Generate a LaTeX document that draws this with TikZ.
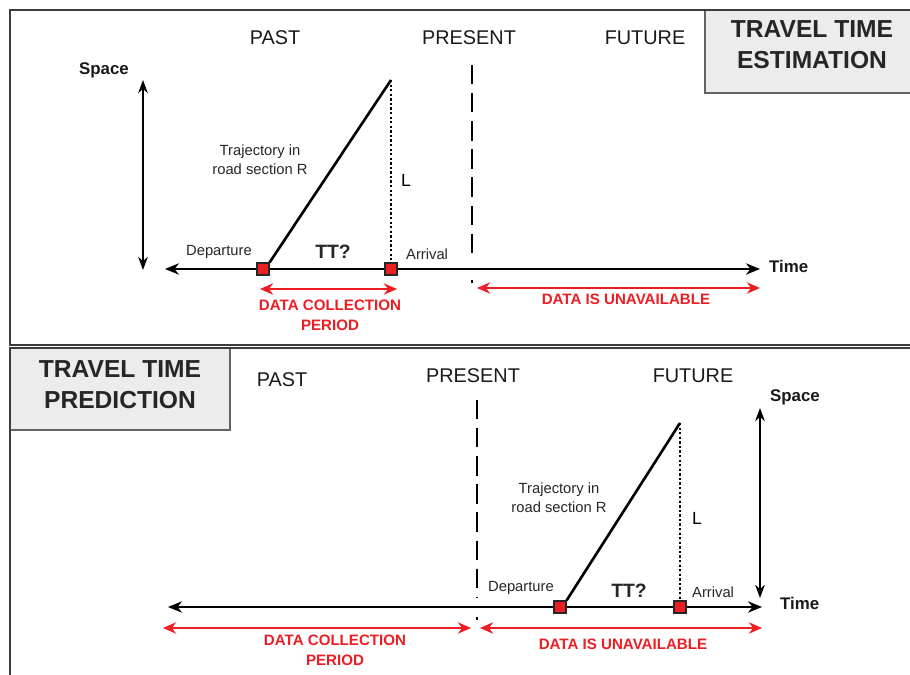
\documentclass[tikz,border=0pt]{standalone}
\usepackage{fontspec}
\setmainfont{Liberation Sans}
\usetikzlibrary{positioning, arrows.meta}

\definecolor{datared}{RGB}{236,30,36}
\definecolor{boxgray}{RGB}{236,236,236}
\definecolor{rulegray}{RGB}{60,60,60}

\begin{document}
\begin{tikzpicture}[x=0.02cm,y=-0.02cm,
    frame/.style={draw=rulegray,line width=1.3pt},
    boxedge/.style={draw=rulegray!80,line width=0.9pt},
    heading/.style={font=\bfseries\fontsize{14}{17.5}\selectfont,align=center,text=black!85},
    era/.style={font=\fontsize{11.3}{13}\selectfont,text=black!90},
    axislabel/.style={font=\bfseries\fontsize{9.6}{11}\selectfont,text=black!90},
    small/.style={font=\fontsize{8.4}{10.8}\selectfont,align=center,text=black!85},
    ttlabel/.style={font=\bfseries\fontsize{11}{13}\selectfont,text=black!85},
    redlabel/.style={font=\bfseries\fontsize{8.6}{11.3}\selectfont,align=center,text=datared},
    timeaxis/.style={line width=1pt,{Stealth[length=8pt,width=6.5pt]}-{Stealth[length=8pt,width=6.5pt]}},
    spaceaxis/.style={line width=0.9pt,{Stealth[length=7.5pt,width=5.5pt]}-{Stealth[length=7.5pt,width=5.5pt]}},
    span/.style={draw=datared,line width=1pt,{Stealth[length=7.5pt,width=6.5pt]}-{Stealth[length=7.5pt,width=6.5pt]}},
    traj/.style={line width=1.5pt},
    height/.style={line width=0.8pt,dash pattern=on 1.3pt off 1.3pt},
    nowline/.style={line width=0.9pt,dash pattern=on 11pt off 5pt},
    event/.style={rectangle,draw=black!85,fill=datared,line width=1pt,minimum size=0.23cm,inner sep=0pt},
  ]
\useasboundingbox (0,0) rectangle (910,675);

% title boxes
\fill[boxgray] (705,10) rectangle (910,93);
\draw[boxedge] (705,10) |- (910,93);
\fill[boxgray] (10,348) rectangle (230,430);
\draw[boxedge] (230,348) |- (10,430);

% panel frames
\draw[frame] (910,10) -- (10,10) -- (10,345) -- (910,345);
\draw[frame] (910,348) -- (10,348) -- (10,675);

\node[heading] (estim) at (812,45) {TRAVEL TIME\\ESTIMATION};
\node[heading] (predict) at (120,385) {TRAVEL TIME\\PREDICTION};

%%% estimation panel
\node[era] (past1) at (275,38) {PAST};
\node[era] (pres1) at (469,38) {PRESENT};
\node[era] (fut1)  at (645,38) {FUTURE};

\coordinate (s1a) at (143,80);
\coordinate (s1b) at (143,270);
\draw[spaceaxis] (s1a) -- (s1b);
\node[axislabel] (space1) at (104,70) {Space};

\coordinate (t1a) at (165,269);
\coordinate (t1b) at (760,269);
\draw[timeaxis] (t1a) -- (t1b);
\node[axislabel,anchor=west] (time1) at (763,266) {Time};

% present: dashes stop short of the axis, one dot below it
\draw[nowline] (472,65) -- (472,261);
\draw[line width=0.9pt] (472,280) -- (472,283);

\coordinate (top1) at (391,80);
\node[event] (dep1) at (263,269) {};
\node[event] (arr1) at (391,269) {};
\draw[traj] (dep1.north east) -- (top1);
\draw[height] (top1) -- (arr1.north);

\node[small] (traj1) at (260,160) {Trajectory in\\road section R};
\node[font=\fontsize{10}{11}\selectfont] (len1) at (406,180) {L};
\node[small,anchor=east] (deplab1) at (258,252) {Departure};
\node[small,anchor=west] (arrlab1) at (400,254) {Arrival};
\node[ttlabel] (tt1) at (333,252) {TT?};

\draw[span] (260,289) -- (397,289);
\node[redlabel] (collect1) at (330,315) {DATA COLLECTION\\PERIOD};
\draw[span] (477,288) -- (760,288);
\node[redlabel] (unavail1) at (626,299) {DATA IS UNAVAILABLE};

%%% prediction panel
\node[era] (past2) at (282,380) {PAST};
\node[era] (pres2) at (473,376) {PRESENT};
\node[era] (fut2)  at (693,376) {FUTURE};

\coordinate (s2a) at (760,408);
\coordinate (s2b) at (760,598);
\draw[spaceaxis] (s2a) -- (s2b);
\node[axislabel] (space2) at (795,397) {Space};

\coordinate (t2a) at (168,607);
\coordinate (t2b) at (762,607);
\draw[timeaxis] (t2a) -- (t2b);
\node[axislabel,anchor=west] (time2) at (774,603) {Time};

\draw[nowline] (477,400) -- (477,598);
\draw[line width=0.9pt] (477,617) -- (477,620);

\coordinate (top2) at (680,423);
\node[event] (dep2) at (560,607) {};
\node[event] (arr2) at (680,607) {};
\draw[traj] (dep2.north east) -- (top2);
\draw[height] (top2) -- (arr2.north);

\node[small] (traj2) at (559,498) {Trajectory in\\road section R};
\node[font=\fontsize{10}{11}\selectfont] (len2) at (697,518) {L};
\node[small,anchor=east] (deplab2) at (560,588) {Departure};
\node[small,anchor=west] (arrlab2) at (686,592) {Arrival};
\node[ttlabel] (tt2) at (629,591) {TT?};

\draw[span] (163,628) -- (471,628);
\node[redlabel] (collect2) at (335,650) {DATA COLLECTION\\PERIOD};
\draw[span] (480,628) -- (762,628);
\node[redlabel] (unavail2) at (623,644) {DATA IS UNAVAILABLE};

\end{tikzpicture}
\end{document}
